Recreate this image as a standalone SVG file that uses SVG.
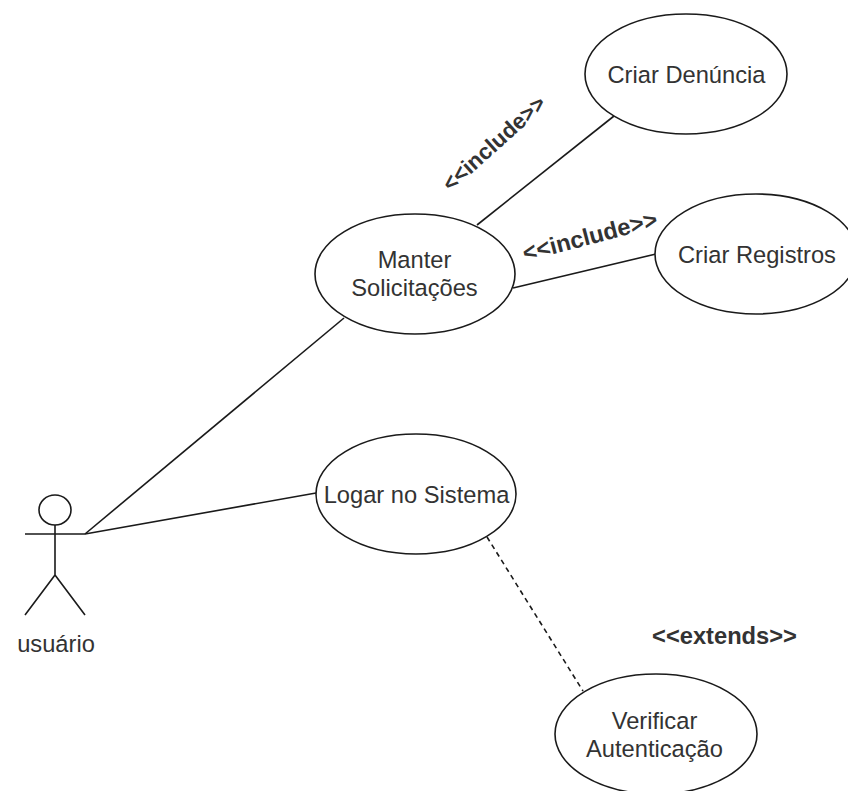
<svg xmlns="http://www.w3.org/2000/svg" width="848" height="791" viewBox="0 0 848 791">
<style>
.n{fill:#fff;stroke:#1a1a1a;stroke-width:1.6}
.l{fill:none;stroke:#1a1a1a;stroke-width:1.6}
text{font-family:"Liberation Sans",Arial,sans-serif;font-size:23.7px;fill:#333;text-anchor:middle}
.b{font-weight:bold}
</style>
<rect width="848" height="791" fill="#fff"/>
<g id="connectors">
<line class="l" x1="85" y1="534" x2="344" y2="318"/>
<line class="l" x1="85" y1="534" x2="316" y2="493"/>
<line class="l" x1="477" y1="225" x2="614" y2="116"/>
<line class="l" x1="513" y1="288" x2="656" y2="254"/>
<line class="l" stroke-dasharray="5 4" x1="487" y1="537" x2="583" y2="691"/>
</g>
<g id="actor">
<ellipse class="n" cx="55" cy="510" rx="16" ry="15"/>
<path class="l" d="M55 525V575M25 534H85M55 575L25 615M55 575L85 615"/>
<text x="56" y="652">usuário</text>
</g>
<g id="manter"><ellipse class="n" cx="415" cy="274" rx="100" ry="60"/><text x="414.5" y="268">Manter</text><text x="414.5" y="296">Solicitações</text></g>
<g id="denuncia"><ellipse class="n" cx="686" cy="74" rx="101" ry="60"/><text x="686.5" y="83">Criar Denúncia</text></g>
<g id="registros"><ellipse class="n" cx="756" cy="254" rx="101" ry="60"/><text x="757" y="263">Criar Registros</text></g>
<g id="logar"><ellipse class="n" cx="416" cy="494" rx="100" ry="60"/><text x="416.5" y="503">Logar no Sistema</text></g>
<g id="verificar"><ellipse class="n" cx="656" cy="734" rx="101" ry="60"/><text x="654.5" y="729">Verificar</text><text x="654.5" y="757">Autenticação</text></g>
<g id="labels">
<text class="b" style="font-size:22.3px" transform="translate(499 149) rotate(-42)">&lt;&lt;include&gt;&gt;</text>
<text class="b" transform="translate(592 244) rotate(-14.6)">&lt;&lt;include&gt;&gt;</text>
<text class="b" x="724.5" y="644">&lt;&lt;extends&gt;&gt;</text>
</g>
</svg>
